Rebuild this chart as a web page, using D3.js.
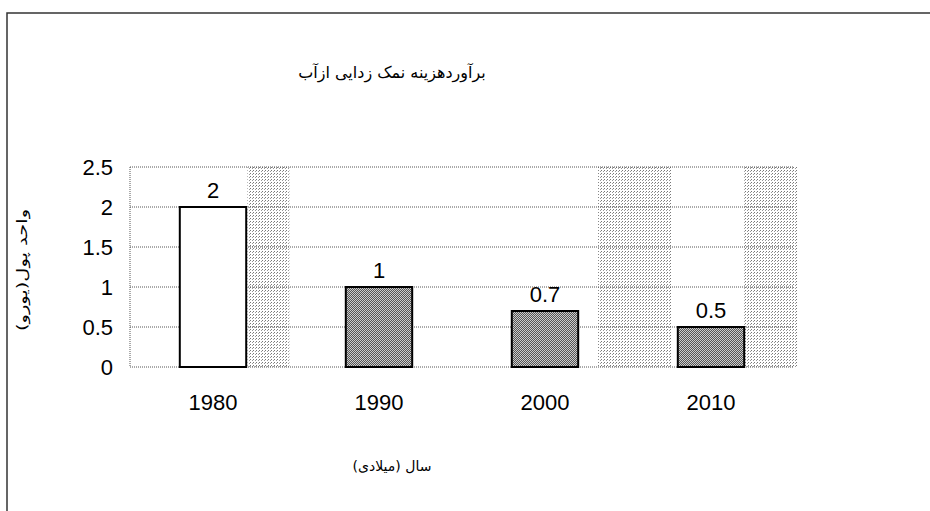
<!DOCTYPE html>
<html>
<meta charset="utf-8">
<style>
    body { margin: 0; background: #fff; }
    svg { display: block; }
    .tick text { font-family: Arial, "Liberation Sans", sans-serif; font-size: 22px; fill: #000; }
    .fa { font-family: "DejaVu Sans", "Noto Sans", sans-serif; fill: #000; }
</style>
<body>
<svg width="930" height="511"></svg>
<script src="https://d3js.org/d3.v7.min.js"></script>
<script>
    // data
    let years = ["1980", "1990", "2000", "2010"];
    let costs = [2, 1, 0.7, 0.5];
    let labels = ["2", "1", "0.7", "0.5"];
    let yTicks = [0, 0.5, 1, 1.5, 2, 2.5];

    let margin = {top: 167, left: 130},
        width = 664, height = 200;

    let svg = d3.select("svg");

    // scanned look: dotted fills
    let defs = svg.append("defs");
    let dark = defs.append("pattern").attr("id", "dark")
        .attr("width", 2).attr("height", 2).attr("patternUnits", "userSpaceOnUse");
    dark.append("rect").attr("width", 2).attr("height", 2).attr("fill", "#ccc");
    dark.append("rect").attr("width", 1).attr("height", 1).attr("fill", "#555");
    dark.append("rect").attr("x", 1).attr("y", 1).attr("width", 1).attr("height", 1).attr("fill", "#555");
    let light = defs.append("pattern").attr("id", "light")
        .attr("width", 3).attr("height", 3).attr("patternUnits", "userSpaceOnUse");
    light.append("rect").attr("width", 1).attr("height", 1).attr("fill", "#777");
    light.append("rect").attr("x", 2).attr("y", 1).attr("width", 1).attr("height", 1).attr("fill", "#999");

    // outer frame
    svg.append("path").attr("d", "M7,511V13H930")
        .attr("fill", "none").attr("stroke", "#333").attr("stroke-width", 1.5);

    let g = svg.append("g").attr("transform", "translate(" + margin.left + "," + margin.top + ")");

    let x = d3.scaleBand().domain(years).range([0, width]).paddingInner(0.6).paddingOuter(0.3);
    let y = d3.scaleLinear().domain([0, 2.5]).range([height, 0]);

    // speckled bands from the scan (relative to categories)
    let noise = [["1980", 1.02, 1.65], ["2000", 1.3, 2.4], ["2010", 1.0, 1.8]];
    g.selectAll(".noise").data(noise).join("rect")
        .attr("x", d => x(d[0]) + x.bandwidth() * d[1])
        .attr("width", d => x.bandwidth() * (d[2] - d[1]))
        .attr("y", 0).attr("height", height)
        .attr("fill", "url(#light)");

    // grid
    g.selectAll(".grid").data(yTicks).join("line")
        .attr("x1", 0).attr("x2", width)
        .attr("y1", d => y(d)).attr("y2", d => y(d))
        .attr("stroke", "#555").attr("stroke-dasharray", "1,1");
    g.append("line").attr("x1", 0).attr("x2", 0).attr("y1", 0).attr("y2", height)
        .attr("stroke", "#555").attr("stroke-dasharray", "1,1");

    // bars
    g.selectAll(".bar").data(costs).join("rect")
        .attr("x", (d, i) => x(years[i]))
        .attr("y", d => y(d))
        .attr("width", x.bandwidth())
        .attr("height", d => height - y(d))
        .attr("fill", (d, i) => i == 0 ? "#fff" : "url(#dark)")
        .attr("stroke", "#000").attr("stroke-width", 2);

    g.selectAll(".val").data(costs).join("text")
        .attr("x", (d, i) => x(years[i]) + x.bandwidth() / 2)
        .attr("y", d => y(d) - 9)
        .attr("text-anchor", "middle")
        .style("font-family", "Arial, sans-serif").style("font-size", "22px")
        .text((d, i) => labels[i]);

    // axes
    let yAxis = g.append("g")
        .call(d3.axisLeft(y).tickValues(yTicks).tickSize(0).tickPadding(17).tickFormat(d3.format("")));
    yAxis.select(".domain").remove();

    let xAxis = g.append("g").attr("transform", "translate(0," + height + ")")
        .call(d3.axisBottom(x).tickSize(0).tickPadding(27));
    xAxis.select(".domain").remove();

    // titles
    svg.append("text").attr("class", "fa")
        .attr("x", 392).attr("y", 78).attr("text-anchor", "middle")
        .style("font-size", "16px").text("برآوردهزینه نمک زدایی ازآب");
    svg.append("text").attr("class", "fa")
        .attr("x", 392).attr("y", 471).attr("text-anchor", "middle")
        .style("font-size", "14px").text("سال (میلادی)");
    svg.append("text").attr("class", "fa")
        .attr("transform", "translate(27,270) rotate(-90)").attr("text-anchor", "middle")
        .attr("textLength", 122).attr("lengthAdjust", "spacingAndGlyphs")
        .style("font-size", "14px").text("واحد پول(یورو)");
</script>
</body>
</html>
